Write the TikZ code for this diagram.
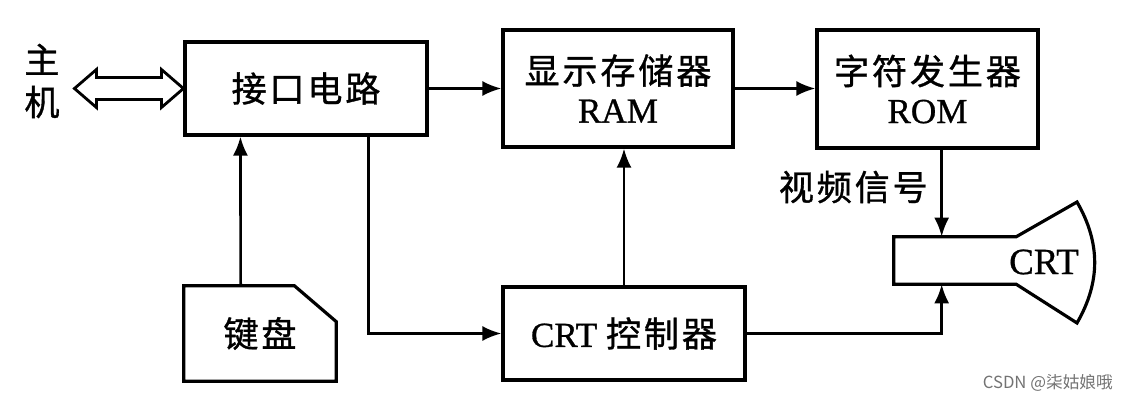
\documentclass[tikz,border=0pt]{standalone}
\usepackage{fontspec}
\setmainfont[FakeBold=0.8]{Liberation Serif}
\newfontfamily\cjk[LetterSpace=8,FakeBold=1]{Noto Sans CJK SC}
\newfontfamily\wmfont{Noto Sans CJK SC}
\usetikzlibrary{arrows.meta,calc}

\begin{document}
\begin{tikzpicture}[
    x=0.02cm, y=-0.02cm,
    line width=1.5pt, text centered,
    box/.style={draw, line width=1.8pt, inner sep=0pt},
    arr/.style={-{Latex[length=0.38cm,width=0.3cm]}},
    lbl/.style={font=\fontsize{20}{22}\selectfont, align=center},
  ]
  \useasboundingbox (0,0) rectangle (1134,402);

  % host side
  \node[align=center, font=\cjk\fontsize{20}{24}\selectfont] (host) at (42,81) {主\\机};
  \node[box, lbl, minimum width=4.84cm, minimum height=1.86cm] (iface) at (306,88.5) {{\cjk 接口电路}};
  % hollow two-way bus arrow
  \draw[line width=1.6pt, line join=miter] (iface.west) -- ++(-22,-19) -- ++(0,8) -- ++(-65,0) -- ++(0,-8)
    -- ++(-22,19) -- ++(22,19) -- ++(0,-8) -- ++(65,0) -- ++(0,8) -- cycle;

  % memories
  \node[box, lbl, minimum width=4.6cm, minimum height=2.34cm] (ram) at (618,88.5) {{\cjk 显示存储器}\\RAM};
  \node[box, lbl, minimum width=4.42cm, minimum height=2.36cm] (rom) at (927.5,89) {{\cjk 字符发生器}\\ROM};

  % controller and keyboard
  \node[box, lbl, minimum width=4.84cm, minimum height=1.86cm] (ctrl) at (624,333.5) {CRT {\cjk 控制器}};
  \node[lbl, minimum width=3cm, minimum height=1.86cm] (kbd) at (260,333.5) {{\cjk 键盘}};
  \draw[line width=1.8pt] (kbd.north west) -- ([xshift=-0.84cm]kbd.north east)
    -- ([yshift=-0.72cm]kbd.north east) -- (kbd.south east) -- (kbd.south west) -- cycle;

  % tube
  \node[minimum width=2.4cm, minimum height=0.9cm, inner sep=0pt] (crt) at (955,260.5) {};
  \node[font=\fontsize{21}{22}\selectfont] (crttxt) at (1044,262) {CRT};
  \draw[line width=1.8pt] (crt.north east) -- (crt.north west) -- (crt.south west) -- (crt.south east)
    -- (1077,323) to[bend right=30] (1077,202) -- cycle;
  \coordinate (vin) at ([xshift=0.96cm]crt.north west);
  \coordinate (vout) at ([xshift=0.96cm]crt.south west);

  % connections
  \draw[arr] (iface.east) -- (ram.west);
  \draw[arr] (ram.east) -- (ram.east -| rom.west);
  \draw[arr] ([xshift=1.14cm]kbd.north west) -- ([xshift=1.14cm]iface.south west);
  \draw[arr] ([xshift=-1.2cm]iface.south east) |- (ctrl.west);
  \draw[arr] (ctrl.north) -- (ctrl.north |- ram.south);
  \draw[arr] (rom.south -| vin) -- (vin);
  \draw[arr] (ctrl.east) -| (vout);
  \node[font=\cjk\fontsize{20}{21}\selectfont, anchor=east] (vsig) at (935,187) {视频信号};

  \node[anchor=east, text=black!55, font=\wmfont\fontsize{9.5}{10}\selectfont] (mark) at (1120,383) {CSDN @柒姑娘哦};
\end{tikzpicture}
\end{document}
